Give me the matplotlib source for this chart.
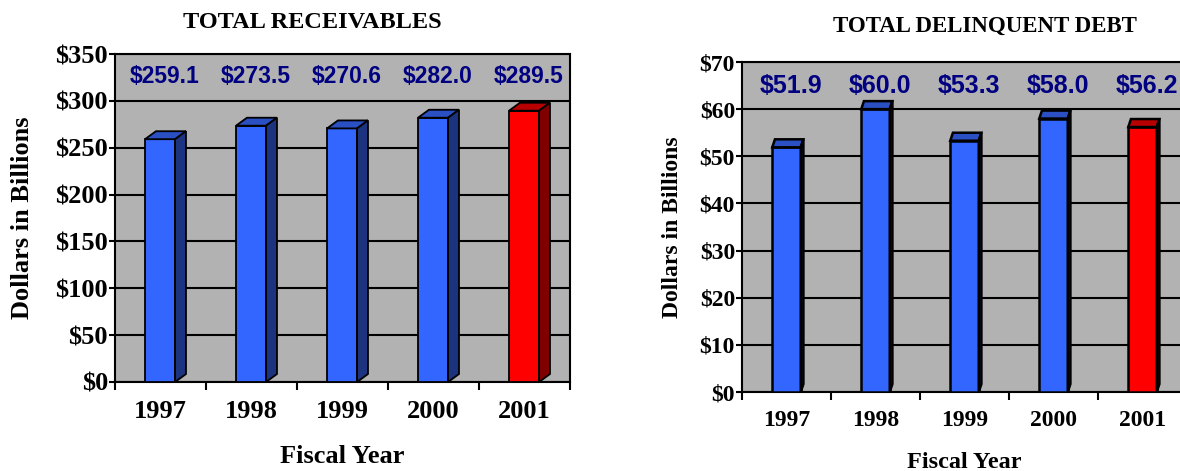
import matplotlib
matplotlib.use("Agg")
import matplotlib.pyplot as plt
from matplotlib.patches import Polygon
import numpy as np

years = ["1997", "1998", "1999", "2000", "2001"]
receivables = [259.1, 273.5, 270.6, 282.0, 289.5]
delinquent = [51.9, 60.0, 53.3, 58.0, 56.2]
recv_labels = ["$259.1", "$273.5", "$270.6", "$282.0", "$289.5"]
debt_labels = ["$51.9", "$60.0", "$53.3", "$58.0", "$56.2"]

SERIF = ["Liberation Serif", "DejaVu Serif"]
SANS = ["Liberation Sans", "DejaVu Sans"]

BG = "#b2b2b2"
BLUE = ("#3366ff", "#2a50c4", "#1c3380")   # front, top, side
RED = ("#ff0000", "#b80000", "#800000")
NAVY = "#000080"


def draw_bars(ax, values, x0, width, dx, dy, lw):
    """ 3D-looking bars: front via ax.bar, top & side via polygons """
    n = len(values)
    for i, v in enumerate(values):
        front, top, side = RED if i == n - 1 else BLUE
        left = i + x0
        right = left + width
        ax.bar(left, v, width=width, align="edge", color=front,
               edgecolor="black", linewidth=lw, zorder=3)
        ax.add_patch(Polygon([(left, v), (right, v), (right + dx, v + dy), (left + dx, v + dy)],
                             closed=True, facecolor=top, edgecolor="black", linewidth=lw, zorder=3))
        ax.add_patch(Polygon([(right, 0), (right + dx, dy), (right + dx, v + dy), (right, v)],
                             closed=True, facecolor=side, edgecolor="black", linewidth=lw, zorder=3))


def style_axes(ax, ymax, step, tick_fs):
    ax.set_facecolor(BG)
    ax.set_xlim(0, 5)
    ax.set_ylim(0, ymax)
    ax.set_yticks(np.arange(0, ymax + 1, step))
    ax.set_yticklabels([f"${int(t)}" for t in np.arange(0, ymax + 1, step)],
                       family=SERIF, fontweight="bold", fontsize=tick_fs)
    ax.set_xticks(np.arange(5) + 0.5)
    ax.set_xticklabels(years, family=SERIF, fontweight="bold", fontsize=tick_fs)
    ax.set_xticks(np.arange(6), minor=True)
    ax.tick_params(axis="x", which="major", length=0, pad=13)
    ax.tick_params(axis="x", which="minor", length=6, width=1.5, direction="out")
    ax.tick_params(axis="y", length=4, width=1.5, direction="out", pad=1)
    ax.yaxis.grid(True, color="black", linewidth=1.5)
    ax.set_axisbelow(True)
    for s in ax.spines.values():
        s.set_linewidth(1.5)
        s.set_color("black")


fig = plt.figure(figsize=(11.8, 4.71), dpi=100)

# 왼쪽: 총 채권
ax1 = fig.add_axes([115 / 1180, 1 - 382 / 471, 455 / 1180, 328 / 471])
style_axes(ax1, 350, 50, 19)
draw_bars(ax1, receivables, 0.33, 0.33, 0.12, 8.5, 1.3)
for i, lab in enumerate(recv_labels):
    ax1.text(i + 0.55, 325.5, lab, ha="center", va="center", color=NAVY,
             family=SANS, fontweight="bold", fontsize=16.5)
ax1.set_xlabel("Fiscal Year", family=SERIF, fontweight="bold", fontsize=19, labelpad=16)
ax1.set_ylabel("Dollars in Billions", family=SERIF, fontweight="bold", fontsize=19, labelpad=15)
fig.text(312 / 1180, 1 - 22 / 471, "TOTAL RECEIVABLES", ha="center", va="center",
         family=SERIF, fontweight="bold", fontsize=17.5)

# 오른쪽: 총 연체 채무 (오른쪽 끝은 잘림)
ax2 = fig.add_axes([742 / 1180, 1 - 392 / 471, 445 / 1180, 330 / 471])
style_axes(ax2, 70, 10, 17)
draw_bars(ax2, delinquent, 0.34, 0.32, 0.03, 1.7, 1.8)
for i, lab in enumerate(debt_labels):
    ax2.text(i + 0.55, 65.0, lab, ha="center", va="center", color=NAVY,
             family=SANS, fontweight="bold", fontsize=18)
ax2.set_xlabel("Fiscal Year", family=SERIF, fontweight="bold", fontsize=17.5, labelpad=15)
ax2.set_ylabel("Dollars in Billions", family=SERIF, fontweight="bold", fontsize=17, labelpad=12)
fig.text(985 / 1180, 1 - 26 / 471, "TOTAL DELINQUENT DEBT", ha="center", va="center",
         family=SERIF, fontweight="bold", fontsize=16.5)

fig.savefig("out.png", dpi=100)
